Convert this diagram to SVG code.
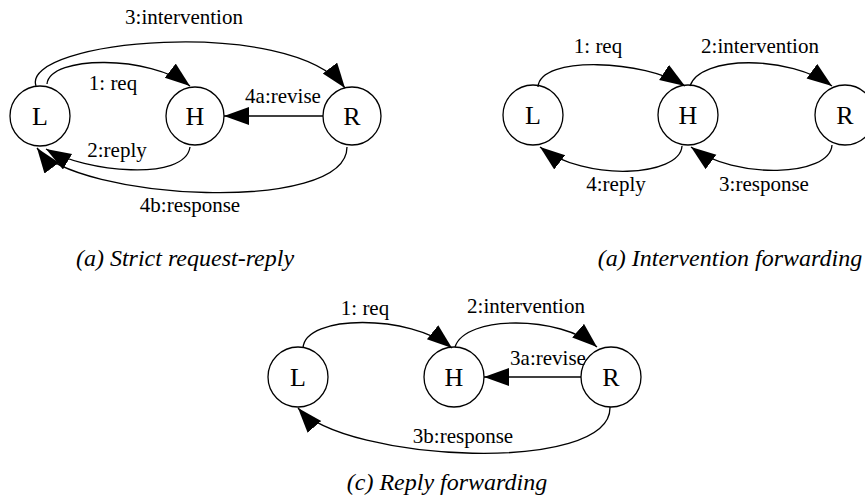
<svg xmlns="http://www.w3.org/2000/svg" width="865" height="501" viewBox="0 0 865 501">
<style>
.node circle{fill:#fff;stroke:#000;stroke-width:1.3}
.node text{font-family:"Liberation Serif",serif;font-size:26px;text-anchor:middle;fill:#000}
.edge path{fill:none;stroke:#000;stroke-width:1.3}
.lbl{font-family:"Liberation Serif",serif;font-size:21px;text-anchor:middle;fill:#000}
.cap{font-family:"Liberation Serif",serif;font-size:24px;font-style:italic;text-anchor:middle;fill:#000}
</style>
<defs>
<marker id="arr" markerUnits="userSpaceOnUse" markerWidth="27" markerHeight="20" refX="25" refY="9" orient="auto">
<path d="M0,0 L25,9 L0,18 z" fill="#000"/>
</marker>
</defs>
<rect width="865" height="501" fill="#fff"/>
<!-- Panel a -->
<g id="a-L" class="node"><circle cx="40" cy="116" r="30"/><text x="40" y="125">L</text></g>
<g id="a-H" class="node"><circle cx="195" cy="116" r="29"/><text x="195" y="125">H</text></g>
<g id="a-R" class="node"><circle cx="352" cy="116" r="29"/><text x="352" y="125">R</text></g>
<g id="a-edges" class="edge">
<path d="M36,86 C20,40 290,15 345,88" marker-end="url(#arr)"/>
<path d="M47,84 C50,55 150,55 190,86" marker-end="url(#arr)"/>
<path d="M323,116 L224,116" marker-end="url(#arr)"/>
<path d="M190,147 C185,182 85,172 46,149" marker-end="url(#arr)"/>
<path d="M347,147 C347,215 75,200 37,148" marker-end="url(#arr)"/>
</g>
<g id="a-labels">
<text class="lbl" x="184" y="24">3:intervention</text>
<text class="lbl" x="113" y="90">1: req</text>
<text class="lbl" x="283" y="103">4a:revise</text>
<text class="lbl" x="117" y="157">2:reply</text>
<text class="lbl" x="190" y="212">4b:response</text>
<text class="cap" x="185" y="266">(a) Strict request-reply</text>
</g>
<!-- Panel b -->
<g id="b-L" class="node"><circle cx="533" cy="115" r="30"/><text x="533" y="124">L</text></g>
<g id="b-H" class="node"><circle cx="688" cy="115" r="30"/><text x="688" y="124">H</text></g>
<g id="b-R" class="node"><circle cx="845" cy="115" r="30"/><text x="845" y="124">R</text></g>
<g id="b-edges" class="edge">
<path d="M538,87 C540,55 645,60 685,86" marker-end="url(#arr)"/>
<path d="M690,86 C700,55 790,55 832,86" marker-end="url(#arr)"/>
<path d="M832,145 C830,177 735,180 691,147" marker-end="url(#arr)"/>
<path d="M682,146 C680,177 585,182 540,147" marker-end="url(#arr)"/>
</g>
<g id="b-labels">
<text class="lbl" x="598" y="53">1: req</text>
<text class="lbl" x="760" y="53">2:intervention</text>
<text class="lbl" x="616" y="191">4:reply</text>
<text class="lbl" x="764" y="191">3:response</text>
<text class="cap" x="730" y="266">(a) Intervention forwarding</text>
</g>
<!-- Panel c -->
<g id="c-L" class="node"><circle cx="298" cy="377" r="30"/><text x="298" y="386">L</text></g>
<g id="c-H" class="node"><circle cx="454" cy="377" r="30"/><text x="454" y="386">H</text></g>
<g id="c-R" class="node"><circle cx="611" cy="377" r="30"/><text x="611" y="386">R</text></g>
<g id="c-edges" class="edge">
<path d="M303,348 C305,314 410,314 452,348" marker-end="url(#arr)"/>
<path d="M455,347 C465,315 560,315 597,347" marker-end="url(#arr)"/>
<path d="M581,377 L484,377" marker-end="url(#arr)"/>
<path d="M610,407 C612,475 345,462 298,408" marker-end="url(#arr)"/>
</g>
<g id="c-labels">
<text class="lbl" x="365" y="315">1: req</text>
<text class="lbl" x="526" y="313">2:intervention</text>
<text class="lbl" x="548" y="365">3a:revise</text>
<text class="lbl" x="463" y="443">3b:response</text>
<text class="cap" x="447" y="490">(c) Reply forwarding</text>
</g>
</svg>
